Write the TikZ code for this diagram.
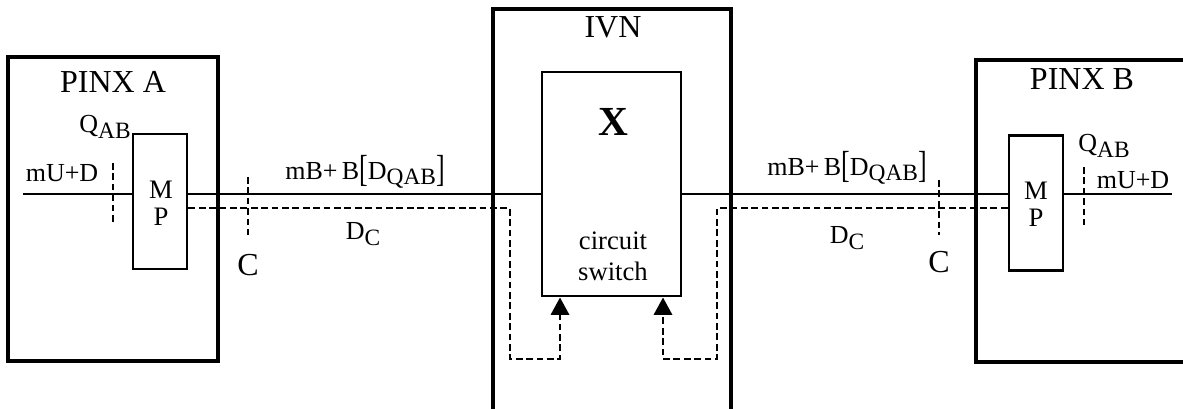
\documentclass[tikz,border=0pt]{standalone}
\usepackage{fontspec}
\setmainfont{Liberation Serif}
\usetikzlibrary{arrows.meta}
\newcommand{\lowsub}[1]{\raisebox{-0.45ex}{\scalebox{0.9}{#1}}}
\newcommand{\tallbr}[1]{\raisebox{-0.25ex}{\scalebox{1}[1.45]{#1}}}

\begin{document}
\begin{tikzpicture}[x=0.75pt,y=-0.75pt,
    outer/.style={draw,line width=2.5pt,inner sep=0pt},
    mpbox/.style={draw,line width=2.2pt,inner sep=0pt,minimum width=40.5pt,minimum height=101.25pt},
    sline/.style={line width=2.1pt},
    dline/.style={line width=2.2pt,dash pattern=on 5pt off 2.8pt},
    tip/.style={-{Triangle[width=13.5pt,length=13pt]}},
    big/.style={font=\fontsize{24}{28}\selectfont},
    mid/.style={font=\fontsize{19.5}{22}\selectfont},
    small/.style={font=\fontsize{20}{23}\selectfont}]
  \useasboundingbox (0,0) rectangle (1183,409);
  % boxes
  \node[outer,minimum width=157.5pt,minimum height=228pt] (pinxa) at (113,209) {};
  \node[outer,minimum width=178.5pt,minimum height=303pt] (ivn) at (612,211) {};
  \node[outer,minimum width=160.5pt,minimum height=226.5pt] (pinxb) at (1083,211) {};
  \node[outer,line width=2.2pt,minimum width=104.25pt,minimum height=168pt] (sw) at (611.5,184) {};
  \node[mpbox] (mpa) at (160,201.5) {};
  \node[mpbox] (mpb) at (1036,203) {};
  % box titles
  \node[big] (ta) at (113,82) {PINX A};
  \node[big] (tivn) at (613,27) {IVN};
  \node[big] (tb) at (1082,79) {PINX B};
  \node[font=\fontsize{31}{34}\selectfont\bfseries] (tx) at (613,122) {X};
  \node[small,align=center] (tsw) at (613,256) {circuit\\switch};
  \node[small] (ma) at (161,190) {M};
  \node[small] (pa) at (161,217) {P};
  \node[small] (mb) at (1036,191) {M};
  \node[small] (pb) at (1036,218) {P};
  % solid paths
  \coordinate (ina) at (23,194);
  \coordinate (inb) at (1172,194);
  \draw[sline] (ina) -- (mpa.west |- ina);
  \draw[sline] (mpa.east |- ina) -- (sw.west |- ina);
  \draw[sline] (sw.east |- inb) -- (mpb.west |- inb);
  \draw[sline] (mpb.east |- inb) -- (inb);
  % dashed paths
  \draw[dline,tip] (mpa.east |- 0,208) -- (510,208) -- (510,359) -- (560,359) -- (560,0 |- sw.south);
  \draw[dline,tip] (mpb.west |- 0,208) -- (717,208) -- (717,359) -- (663,359) -- (663,0 |- sw.south);
  % reference points
  \draw[dline] (113,163) -- (113,222);
  \draw[dline] (248,177) -- (248,235);
  \draw[dline] (939,180) -- (939,235);
  \draw[dline] (1084,167) -- (1084,225);
  % labels
  \node[mid] (qa) at (105,127) {Q\lowsub{AB}};
  \node[mid] (qb) at (1104,146) {Q\lowsub{AB}};
  \node[mid] (ua) at (62,173) {mU+D};
  \node[mid] (ub) at (1133,180) {mU+D};
  \node[mid] (ba) at (365,172) {mB+\,B\tallbr{[}D\lowsub{QAB}\tallbr{]}};
  \node[mid] (bb) at (847,168) {mB+\,B\tallbr{[}D\lowsub{QAB}\tallbr{]}};
  \node[mid] (da) at (363,234) {D\lowsub{C}};
  \node[mid] (db) at (847,238) {D\lowsub{C}};
  \node[big] (ca) at (248,265) {C};
  \node[big] (cb) at (939,262) {C};
\end{tikzpicture}
\end{document}
